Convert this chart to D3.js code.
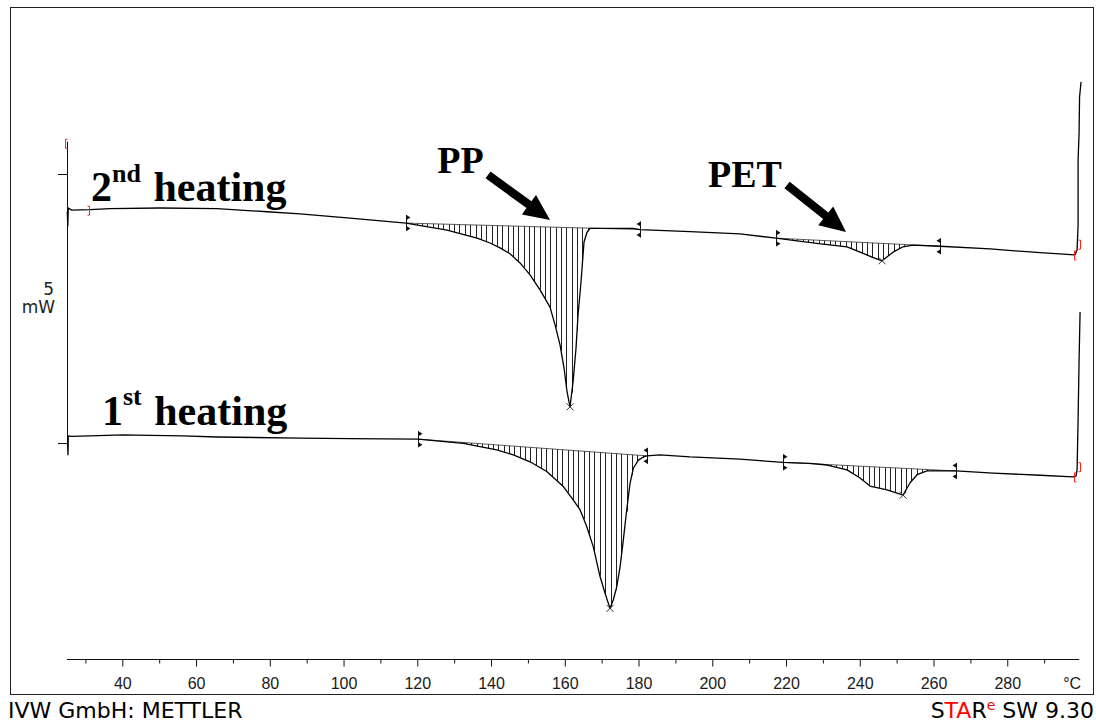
<!DOCTYPE html>
<html><head><meta charset="utf-8">
<script src="https://cdn.jsdelivr.net/npm/d3@7"></script>
<style>
html,body{margin:0;padding:0;background:#fff;}
svg{display:block;}
</style></head>
<body>
<svg id="chart" width="1096" height="724"></svg>
<script>
// ---- data (temperature °C, heat flow mW, relative offset) ----
const heat2T = [25.08,25.22,25.35,26.27,31.24,36.66,50.22,65.68,79.24,88.19,101.76,116.94,128.06,136.20,139.73,142.44,145.15,147.86,150.58,153.29,156.00,157.36,158.71,159.80,160.61,161.42,162.24,163.05,163.59,164.41,164.95,165.22,166.03,166.85,172.27,178.51,180.41,193.97,207.53,217.30,222.99,230.04,236.55,240.08,243.33,246.05,249.03,251.74,254.45,261.78,275.34,288.90,298.39,298.94,299.21,299.21,299.48,299.61,300.02];
const heat2W = [4.30,4.04,4.37,4.33,4.34,4.36,4.37,4.36,4.30,4.26,4.18,4.09,3.96,3.81,3.72,3.63,3.52,3.35,3.13,2.85,2.53,2.20,1.83,1.40,0.96,0.68,1.14,1.77,2.38,3.00,3.50,3.74,3.92,3.99,3.99,3.99,3.97,3.93,3.89,3.81,3.76,3.70,3.65,3.55,3.46,3.39,3.55,3.65,3.68,3.66,3.61,3.54,3.50,3.59,4.05,5.26,5.76,6.43,6.71];
const heat1T = [25.14,25.27,25.35,26.27,31.24,40.19,47.51,56.46,65.68,88.19,101.76,120.20,132.49,137.01,141.54,146.05,150.57,155.10,159.61,162.32,164.14,165.95,167.74,169.56,170.92,172.27,173.17,174.09,174.99,175.88,176.80,177.70,178.59,179.95,181.31,182.23,185.84,193.97,207.53,212.96,219.19,226.52,231.13,236.55,240.08,242.79,247.40,251.74,253.64,255.54,258.25,266.12,276.15,288.90,297.85,298.66,298.94,299.21,299.48,299.75];
const heat1W = [0.01,-0.21,0.14,0.13,0.14,0.16,0.15,0.14,0.12,0.10,0.09,0.08,0.00,-0.06,-0.12,-0.21,-0.34,-0.52,-0.80,-1.05,-1.23,-1.54,-1.92,-2.47,-2.78,-3.06,-2.90,-2.66,-2.29,-1.79,-1.23,-0.74,-0.46,-0.31,-0.25,-0.23,-0.21,-0.25,-0.29,-0.32,-0.35,-0.37,-0.40,-0.49,-0.64,-0.79,-0.86,-0.96,-0.73,-0.58,-0.51,-0.51,-0.55,-0.59,-0.62,-0.60,-0.49,0.44,1.55,2.44];

// integration limits (°C) and peak temperatures
const heat2Limits = [[116.94,180.41],[217.30,261.78]];
const heat1Limits = [[120.20,182.23],[219.19,266.12]];
const heat2Peaks = [161.42, 246.05];
const heat1Peaks = [172.27, 251.74];

// red segment brackets (°C, mW, type)
const bracketT = [24.46, 31.10, 299.75, 297.99, 299.75, 297.99];
const bracketW = [5.56, 4.32, 3.69, 3.49, -0.44, -0.63];
const bracketType = ["[", "]", "]", "[", "]", "["];

// axis ticks
const majorTicks = [40,60,80,100,120,140,160,180,200,220,240,260,280];
const minorTicks = [30,50,70,90,110,130,150,170,190,210,230,250,270,290];
const xUnit = "°C";
const scaleBarValues = [0, 5];   // mW
const scaleBarLabel = ["5", "mW"];

// ---- drawing ----
const svg = d3.select("#chart");
const x = d3.scaleLinear().domain([25, 300]).range([67, 1081]);
const y = d3.scaleLinear().domain([-4, 8.1]).range([659, 7]);

// frame
svg.append("rect").attr("x", 10.5).attr("y", 7.5).attr("width", 1083).attr("height", 687)
  .attr("fill", "none").attr("stroke", "#222").attr("stroke-width", 1);

// x axis
const axisG = svg.append("g").attr("transform", "translate(0,659.5)");
axisG.call(d3.axisBottom(x).tickValues(minorTicks).tickSize(4).tickSizeOuter(0).tickFormat(""));
const majG = svg.append("g").attr("transform", "translate(0,659.5)");
majG.call(d3.axisBottom(x).tickValues(majorTicks).tickSize(7).tickSizeOuter(0).tickFormat(d3.format("d")));
[axisG, majG].forEach(g => {
  g.select(".domain").attr("stroke", "#111").attr("d", `M${x(25)},0H${x(299.5)}`);
  g.selectAll(".tick line").attr("stroke", "#111");
});
majG.selectAll(".tick text").attr("y", 29.5).attr("dy", null)
  .attr("font-family", "'Liberation Sans', Arial, sans-serif").attr("font-size", 16).attr("fill", "#1a1a1a");
svg.append("text").attr("x", x(297.6)).attr("y", 689).attr("text-anchor", "middle")
  .attr("font-family", "'Liberation Sans', Arial, sans-serif").attr("font-size", 16).attr("fill", "#1a1a1a")
  .text(xUnit);

// scale bar (5 mW)
svg.append("line").attr("x1", Math.round(x(25)) + 0.5).attr("x2", Math.round(x(25)) + 0.5)
  .attr("y1", y(5.6)).attr("y2", y(scaleBarValues[0])).attr("stroke", "#111");
scaleBarValues.forEach(v => {
  svg.append("line").attr("x1", x(25) - 9).attr("x2", x(25))
    .attr("y1", Math.round(y(v)) + 0.5).attr("y2", Math.round(y(v)) + 0.5).attr("stroke", "#111");
});
const midV = (scaleBarValues[0] + scaleBarValues[1]) / 2;
svg.append("text").attr("x", 54).attr("y", y(midV) - 14).attr("text-anchor", "end")
  .attr("font-family", "'DejaVu Sans', sans-serif").attr("font-size", 17).attr("fill", "#222").text(scaleBarLabel[0]);
svg.append("text").attr("x", 55).attr("y", y(midV) + 4).attr("text-anchor", "end")
  .attr("font-family", "'DejaVu Sans', sans-serif").attr("font-size", 17).attr("fill", "#222").text(scaleBarLabel[1]);

// helpers
function interp(Ts, Ws, t) {
  const i = Math.max(1, Math.min(Ts.length - 1, d3.bisectRight(Ts, t)));
  const t0 = Ts[i - 1], t1 = Ts[i];
  const w0 = Ws[i - 1], w1 = Ws[i];
  if (t1 === t0) return w0;
  return w0 + (w1 - w0) * (t - t0) / (t1 - t0);
}

const hatchStep = 1.45;
function drawSeries(Ts, Ws, limits, peaks) {
  const g = svg.append("g");
  // hatching
  limits.forEach(([a, b]) => {
    const wa = interp(Ts, Ws, a), wb = interp(Ts, Ws, b);
    for (let t = a + hatchStep; t < b; t += hatchStep) {
      const base = wa + (wb - wa) * (t - a) / (b - a);
      const c = interp(Ts, Ws, t);
      if (c < base - 0.01) {
        const px = Math.round(x(t)) + 0.5;
        g.append("line").attr("x1", px).attr("x2", px)
          .attr("y1", y(base)).attr("y2", y(c))
          .attr("stroke", "#222").attr("stroke-width", 1);
      }
    }
    // baseline
    g.append("line").attr("x1", x(a)).attr("x2", x(b)).attr("y1", y(wa)).attr("y2", y(wb))
      .attr("stroke", "#333").attr("stroke-width", 0.8);
  });
  // curve
  const line = d3.line().x((d, i) => x(Ts[i])).y((d, i) => y(Ws[i]));
  g.append("path").attr("d", line(Ts)).attr("fill", "none")
    .attr("stroke", "#000").attr("stroke-width", 1.3).attr("stroke-linejoin", "round");
  // limit markers
  limits.forEach(([a, b]) => {
    [[a, 1], [b, -1]].forEach(([t, dir]) => {
      const px = Math.round(x(t)) + 0.5, py = y(interp(Ts, Ws, t));
      g.append("line").attr("x1", px).attr("x2", px).attr("y1", py - 8).attr("y2", py + 8)
        .attr("stroke", "#111").attr("stroke-width", 1);
      g.append("path").attr("d", `M${px},${py - 8}L${px + 4 * dir},${py - 5.5}L${px},${py - 3}Z`).attr("fill", "#111");
      g.append("path").attr("d", `M${px},${py + 3}L${px + 4 * dir},${py + 5.5}L${px},${py + 8}Z`).attr("fill", "#111");
    });
  });
  // peak crosses
  peaks.forEach(t => {
    const px = x(t), py = y(interp(Ts, Ws, t));
    g.append("path").attr("d", `M${px - 3.5},${py - 3.5}L${px + 3.5},${py + 3.5}M${px - 3.5},${py + 3.5}L${px + 3.5},${py - 3.5}`)
      .attr("stroke", "#333").attr("stroke-width", 1).attr("fill", "none");
  });
}
drawSeries(heat2T, heat2W, heat2Limits, heat2Peaks);
drawSeries(heat1T, heat1W, heat1Limits, heat1Peaks);

// red brackets
bracketT.forEach((t, i) => {
  const px = Math.round(x(t)) + 0.5, py = y(bracketW[i]);
  const d = bracketType[i] === "[" ? `M${px + 2},${py - 4.5}H${px}V${py + 4.5}H${px + 2}`
                                   : `M${px - 2},${py - 4.5}H${px}V${py + 4.5}H${px - 2}`;
  svg.append("path").attr("d", d).attr("fill", "none").attr("stroke", "#ff2020").attr("stroke-width", 1);
});

// annotations
const serif = "'Liberation Serif', 'Times New Roman', serif";
function heatingLabel(t, w, num, sup, supRise) {
  const tx = svg.append("text").attr("x", x(t)).attr("y", y(w))
    .attr("font-family", serif).attr("font-weight", "bold").attr("font-size", 42).attr("fill", "#000");
  tx.append("tspan").text(num);
  tx.append("tspan").attr("font-size", 26).attr("dy", -supRise).text(sup);
  tx.append("tspan").attr("dy", supRise).attr("dx", 2).text(" heating");
}
heatingLabel(31.51, 4.50, "2", "nd", 19);
heatingLabel(34.49, 0.343, "1", "st", 20);

svg.append("text").attr("x", x(125.4)).attr("y", y(5.02))
  .attr("font-family", serif).attr("font-weight", "bold").attr("font-size", 38).text("PP");
svg.append("text").attr("x", x(198.85)).attr("y", y(4.76))
  .attr("font-family", serif).attr("font-weight", "bold").attr("font-size", 38).text("PET");

function arrow(t0, w0, t1, w1) {
  const x0 = x(t0), y0 = y(w0), x1 = x(t1), y1 = y(w1);
  const dx = x1 - x0, dy = y1 - y0, L = Math.hypot(dx, dy);
  const ux = dx / L, uy = dy / L, nx = -uy, ny = ux;
  const headL = 26, headW = 12, shaftW = 4.2;
  const bx = x1 - ux * headL, by = y1 - uy * headL;
  const pts = [
    [x0 + nx * shaftW, y0 + ny * shaftW],
    [bx + nx * shaftW, by + ny * shaftW],
    [bx + nx * headW, by + ny * headW],
    [x1, y1],
    [bx - nx * headW, by - ny * headW],
    [bx - nx * shaftW, by - ny * shaftW],
    [x0 - nx * shaftW, y0 - ny * shaftW]
  ];
  svg.append("path").attr("d", "M" + pts.map(p => p.join(",")).join("L") + "Z").attr("fill", "#000");
}
arrow(139.19, 4.983, 156.0, 4.148);
arrow(220.28, 4.798, 236.28, 3.925);

// footer
const sans = "'DejaVu Sans', Verdana, sans-serif";
svg.append("text").attr("x", 8).attr("y", 718).attr("font-family", sans).attr("font-size", 22)
  .attr("fill", "#000").text("IVW GmbH: METTLER");
const ft = svg.append("text").attr("x", 1094).attr("y", 718).attr("text-anchor", "end")
  .attr("font-family", sans).attr("font-size", 22).attr("fill", "#000");
ft.append("tspan").text("S");
ft.append("tspan").attr("fill", "#ff0000").text("TA");
ft.append("tspan").text("R");
ft.append("tspan").attr("fill", "#ff0000").attr("font-size", 14).attr("dy", -8).text("e");
ft.append("tspan").attr("dy", 8).text(" SW 9.30");
</script>
</body></html>
